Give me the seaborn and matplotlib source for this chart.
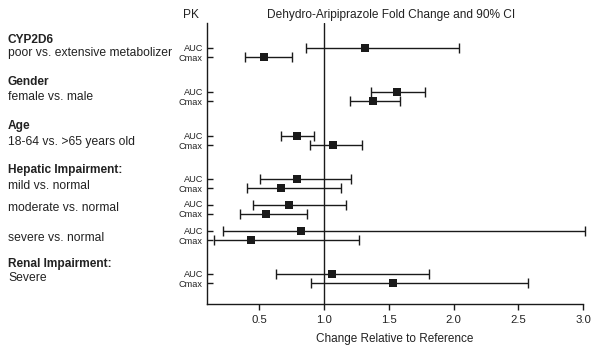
import matplotlib
matplotlib.use("Agg")
import matplotlib.pyplot as plt
import matplotlib.transforms as mtransforms
import pandas as pd
import seaborn as sns

# 資料：各族群的倍數變化與 90% CI
groups = ["CYP2D6", "Gender", "Age", "Hepatic Impairment:", "Hepatic Impairment:",
          "Hepatic Impairment:", "Renal Impairment:"]
comparisons = ["poor vs. extensive metabolizer", "female vs. male",
               "18-64 vs. >65 years old", "mild vs. normal", "moderate vs. normal",
               "severe vs. normal", "Severe"]
pk_params = ["AUC", "Cmax"]

auc_fold = [1.32, 1.56, 0.79, 0.79, 0.73, 0.82, 1.06]
auc_lo = [0.86, 1.36, 0.67, 0.51, 0.45, 0.22, 0.63]
auc_hi = [2.04, 1.78, 0.92, 1.21, 1.17, 3.01, 1.81]
cmax_fold = [0.54, 1.38, 1.07, 0.67, 0.55, 0.44, 1.53]
cmax_lo = [0.39, 1.20, 0.89, 0.41, 0.35, 0.15, 0.90]
cmax_hi = [0.75, 1.59, 1.29, 1.13, 0.87, 1.27, 2.57]

xticks = [0.5, 1.0, 1.5, 2.0, 2.5, 3.0]

sns.set_style("ticks")
plt.rcParams['font.family'] = ['Liberation Sans', 'DejaVu Sans']

# 版面：每組起始列位置（以像素為單位）
first_row = 48.3
pair_gap = 9
group_gaps = [44, 44, 43, 25.5, 26.5, 43]
starts = [first_row]
for g in group_gaps:
    starts.append(starts[-1] + g)

rows = []
for i in range(len(comparisons)):
    rows.append(dict(group=groups[i], comp=comparisons[i], pk=pk_params[0], y=starts[i],
                     fold=auc_fold[i], lo=auc_lo[i], hi=auc_hi[i]))
    rows.append(dict(group=groups[i], comp=comparisons[i], pk=pk_params[1], y=starts[i] + pair_gap,
                     fold=cmax_fold[i], lo=cmax_lo[i], hi=cmax_hi[i]))
df = pd.DataFrame(rows)

fig = plt.figure(figsize=(5.97, 3.57), dpi=100)
ax = fig.add_axes([207 / 597, 1 - 304 / 357, (583.3 - 207) / 597, (304 - 23) / 357])
ink = "#1a1a1a"
txt = "#222222"

ax.errorbar(df["fold"], df["y"], xerr=[df["fold"] - df["lo"], df["hi"] - df["fold"]],
            fmt="none", ecolor=ink, elinewidth=1.0, capsize=3.6, capthick=1.0, clip_on=False)
sns.scatterplot(data=df, x="fold", y="y", marker="s", s=30, color=ink,
                edgecolor=ink, linewidth=0, ax=ax, zorder=3, clip_on=False)
ax.axvline(1.0, color=ink, lw=1.0)

ax.set_xlim(0.098, 3.0)
ax.set_ylim(304, 23)
ax.set_xticks(xticks)
ax.set_xticklabels([f"{v:.1f}" for v in xticks], fontsize=8.2, color=txt)
ax.set_yticks(df["y"])
ax.set_yticklabels([])
ax.tick_params(axis="y", direction="in", length=4, width=1, color=ink)
ax.tick_params(axis="x", direction="out", length=4, width=1, pad=4, color=ink)
ax.set_xlabel("Change Relative to Reference", fontsize=8.5, color=txt, labelpad=6)
ax.set_ylabel("")
sns.despine(ax=ax)
for s in ["left", "bottom"]:
    ax.spines[s].set_color(ink)
    ax.spines[s].set_linewidth(1.0)

# PK 標籤（AUC / Cmax）
ytrans = mtransforms.blended_transform_factory(ax.transAxes, ax.transData)
for _, r in df.iterrows():
    off = 2.6 if r["pk"] == "AUC" else 3.4
    ax.text(-0.011, r["y"] + off, r["pk"], transform=ytrans, fontsize=6.6, color=txt,
            ha="right", va="baseline", clip_on=False)

# 左側文字標籤
trans = mtransforms.blended_transform_factory(fig.transFigure, ax.transData)
x0 = 8 / 597
group_y = {"CYP2D6": 40, "Gender": 82, "Age": 126,
           "Hepatic Impairment:": 170, "Renal Impairment:": 264}
comp_y = [53, 97, 142, 186, 208.3, 238.3, 278.3]
for g, gy in group_y.items():
    ax.text(x0, gy, g, transform=trans, fontsize=8.6, fontweight="bold",
            color=txt, va="center", ha="left", clip_on=False)
for comp, cy in zip(comparisons, comp_y):
    ax.text(x0, cy, comp, transform=trans, fontsize=8.7, color=txt,
            va="center", ha="left", clip_on=False)

fig.text(190.7 / 597, 1 - 15 / 357, "PK", fontsize=8.6, color=txt, ha="center", va="center")
fig.text(390.7 / 597, 1 - 15 / 357, "Dehydro-Aripiprazole Fold Change and 90% CI",
         fontsize=8.6, color=txt, ha="center", va="center")

fig.savefig("out.png", dpi=100)
